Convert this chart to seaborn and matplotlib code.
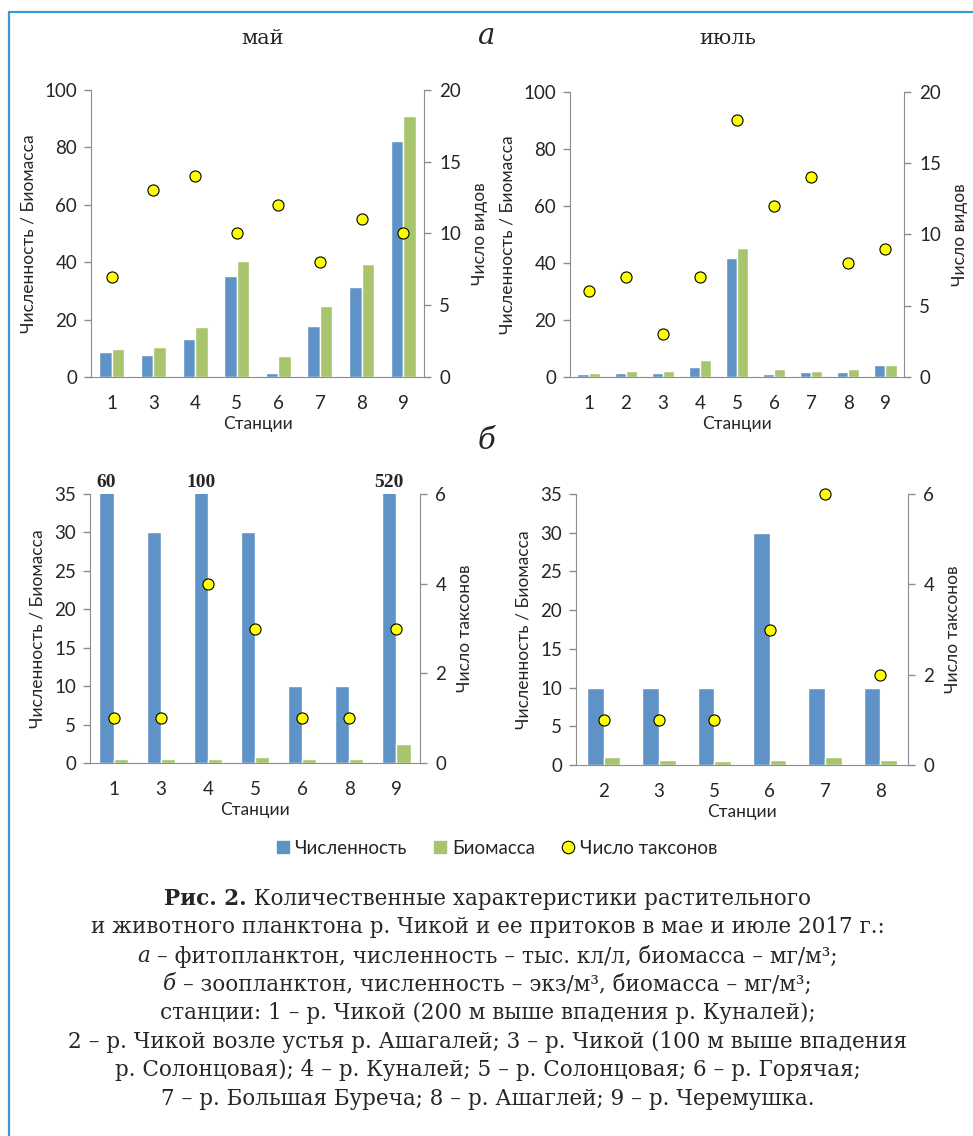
import numpy as np
import pandas as pd
import matplotlib
matplotlib.use("Agg")
import matplotlib.pyplot as plt
from matplotlib.patches import Patch
from matplotlib.lines import Line2D
import seaborn as sns

# ---- data ----
# a: phytoplankton
a_may_st = ["1", "3", "4", "5", "6", "7", "8", "9"]
a_may_num = [8.7, 7.6, 13.4, 35.2, 1.5, 17.7, 31.3, 82.3]
a_may_bio = [9.7, 10.6, 17.3, 40.3, 7.3, 24.7, 39.3, 91.0]
a_may_taxa = [7, 13, 14, 10, 12, 8, 11, 10]

a_jul_st = ["1", "2", "3", "4", "5", "6", "7", "8", "9"]
a_jul_num = [1.2, 1.5, 1.5, 3.5, 41.6, 1.2, 1.8, 1.8, 4.1]
a_jul_bio = [1.3, 2.2, 2.1, 5.8, 45.3, 2.8, 2.1, 2.9, 4.3]
a_jul_taxa = [6, 7, 3, 7, 18, 12, 14, 8, 9]

# б: zooplankton
b_may_st = ["1", "3", "4", "5", "6", "8", "9"]
b_may_num = [60, 30, 100, 30, 10, 10, 520]
b_may_bio = [0.5, 0.5, 0.5, 0.8, 0.5, 0.5, 2.5]
b_may_taxa = [1, 1, 4, 3, 1, 1, 3]

b_jul_st = ["2", "3", "5", "6", "7", "8"]
b_jul_num = [10, 10, 10, 30, 10, 10]
b_jul_bio = [1.0, 0.6, 0.5, 0.6, 1.0, 0.6]
b_jul_taxa = [1, 1, 1, 3, 6, 2]

series = ["Численность", "Биомасса"]
colors = ["#5F93C8", "#A8C56E"]
dot_color = "#FFFF00"

caption = [
    [("Рис. 2.", dict(weight="bold")), (" Количественные характеристики растительного", {})],
    [("и животного планктона р. Чикой и ее притоков в мае и июле 2017 г.:", {})],
    [("а", dict(style="italic")), (" – фитопланктон, численность – тыс. кл/л, биомасса – мг/м³;", {})],
    [("б", dict(style="italic")), (" – зоопланктон, численность – экз/м³, биомасса – мг/м³;", {})],
    [("станции: 1 – р. Чикой (200 м выше впадения р. Куналей);", {})],
    [("2 – р. Чикой возле устья р. Ашагалей; 3 – р. Чикой (100 м выше впадения", {})],
    [("р. Солонцовая); 4 – р. Куналей; 5 – р. Солонцовая; 6 – р. Горячая;", {})],
    [("7 – р. Большая Буреча; 8 – р. Ашаглей; 9 – р. Черемушка.", {})],
]

sns.set_style("white")
plt.rcParams["font.family"] = ["Lato", "DejaVu Sans"]
SERIF = ["DejaVu Serif"]
TIMES = ["Liberation Serif", "DejaVu Serif"]
GREY = "#8C8C8C"

W, H = 973, 1136
fig = plt.figure(figsize=(W / 100, H / 100), dpi=100)


def px_axes(x0, y0, x1, y1):
    return fig.add_axes([x0 / W, 1 - y1 / H, (x1 - x0) / W, (y1 - y0) / H])


def panel(box, st, num, bio, taxa, ymax, ystep, y2max, y2step, y2label):
    ax = px_axes(*box)
    df = pd.DataFrame({
        "Станции": st * 2,
        "value": num + bio,
        "series": [series[0]] * len(st) + [series[1]] * len(st),
    })
    sns.barplot(data=df, x="Станции", y="value", hue="series", order=st,
                hue_order=series, palette=colors, width=0.6, gap=0,
                saturation=1, legend=False, ax=ax)
    ax.set_ylim(0, ymax)
    ax.set_yticks(np.arange(0, ymax + 0.1, ystep))
    ax.set_ylabel("Численность / Биомасса", fontsize=12.5, labelpad=6)
    ax.set_xlabel("Станции", fontsize=12.5, labelpad=3)
    ax.set_xticks(np.arange(-0.5, len(st), 1), minor=True)
    ax.tick_params(axis="x", which="major", length=0, labelsize=13.5, pad=13)
    ax.tick_params(axis="x", which="minor", length=6, color=GREY, width=1)
    ax.tick_params(axis="y", length=5, color=GREY, width=1, labelsize=13.5, pad=5)
    for s in ["top", "right"]:
        ax.spines[s].set_visible(False)
    for s in ["left", "bottom"]:
        ax.spines[s].set_color(GREY)

    # values beyond the axis range are written above the clipped bars
    for bar, v in zip(ax.containers[0], num):
        if v > ymax:
            ax.annotate(f"{v:g}", (bar.get_x() + bar.get_width() / 2, ymax),
                        xytext=(0, 2), textcoords="offset points",
                        ha="center", va="bottom", fontsize=14,
                        fontweight="bold", family=TIMES)

    ax2 = ax.twinx()
    sns.pointplot(x=st, y=taxa, order=st, ax=ax2, color=dot_color,
                  linestyle="none", marker="o", markersize=8,
                  markeredgecolor="black", markeredgewidth=0.8,
                  errorbar=None, clip_on=False)
    ax2.set_ylim(0, y2max)
    ax2.set_yticks(np.arange(0, y2max + 0.1, y2step))
    ax2.set_ylabel(y2label, fontsize=12.5, labelpad=8)
    ax2.tick_params(axis="y", length=5, color=GREY, width=1, labelsize=13.5, pad=6)
    for s in ["top", "left", "bottom"]:
        ax2.spines[s].set_visible(False)
    ax2.spines["right"].set_color(GREY)
    ax2.set_xlim(-0.5, len(st) - 0.5)
    ax.set_xlim(-0.5, len(st) - 0.5)
    return ax


panel((91, 90, 424, 377), a_may_st, a_may_num, a_may_bio, a_may_taxa,
      100, 20, 20, 5, "Число видов")
panel((570, 92, 904, 377), a_jul_st, a_jul_num, a_jul_bio, a_jul_taxa,
      100, 20, 20, 5, "Число видов")
panel((90, 494, 420, 763), b_may_st, b_may_num, b_may_bio, b_may_taxa,
      35, 5, 6, 2, "Число таксонов")
panel((576, 494, 908, 765), b_jul_st, b_jul_num, b_jul_bio, b_jul_taxa,
      35, 5, 6, 2, "Число таксонов")

# panel headings
fig.text(263 / W, 1 - 38 / H, "май", family=SERIF, fontsize=15, ha="center", va="center")
fig.text(728 / W, 1 - 38 / H, "июль", family=SERIF, fontsize=15, ha="center", va="center")
fig.text(486 / W, 1 - 36 / H, "а", family=SERIF, style="italic", fontsize=21, ha="center", va="center")
fig.text(486 / W, 1 - 441 / H, "б", family=SERIF, style="italic", fontsize=21, ha="center", va="center")

# legend
handles = [Patch(color=colors[0], label=series[0]),
           Patch(color=colors[1], label=series[1]),
           Line2D([], [], linestyle="none", marker="o", markersize=9,
                  markerfacecolor=dot_color, markeredgecolor="black",
                  markeredgewidth=0.8, label="Число таксонов")]
fig.legend(handles=handles, loc="center", bbox_to_anchor=(497 / W, 1 - 848 / H),
           ncol=3, frameon=False, fontsize=13.5, handlelength=0.65,
           handleheight=0.65, handletextpad=0.3, columnspacing=1.45)

# caption, centred line by line (mixed styles measured with the renderer)
renderer = fig.canvas.get_renderer()
cap_size = 15.5
for i, parts in enumerate(caption):
    y = 1 - (899 + i * 28.5) / H
    texts = [fig.text(0, y, t, family=SERIF, fontsize=cap_size, va="center", **kw)
             for t, kw in parts]
    widths = [t.get_window_extent(renderer).width for t in texts]
    x = (W / 2 + 1) - sum(widths) / 2
    for t, w in zip(texts, widths):
        t.set_x(x / W)
        x += w

# light blue frame lines (top and left)
fig.add_artist(Line2D([9 / W, 1], [1 - 12 / H, 1 - 12 / H], color="#3A9AD9", lw=1.6))
fig.add_artist(Line2D([9 / W, 9 / W], [0, 1 - 12 / H], color="#3A9AD9", lw=1.6))

fig.savefig("out.png", dpi=100)
